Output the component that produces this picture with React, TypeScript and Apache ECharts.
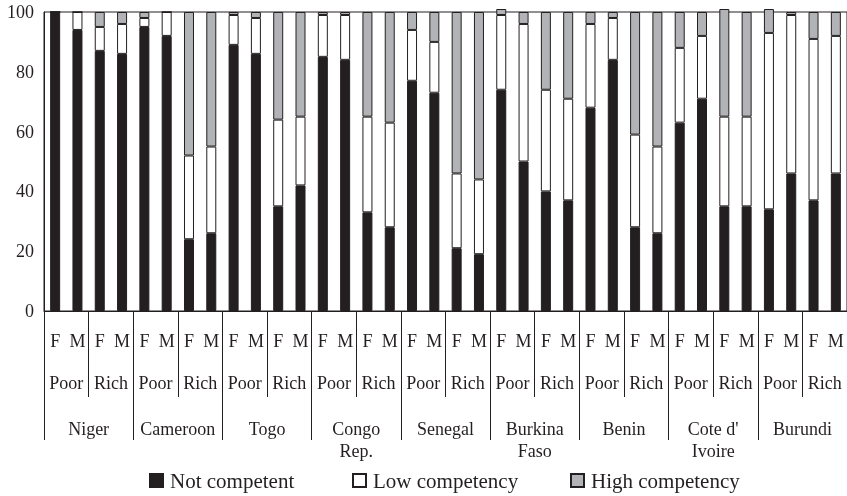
import React, { useEffect, useRef } from "react";
import * as echarts from "echarts";

const countries = ["Niger", "Cameroon", "Togo", "Congo\nRep.", "Senegal", "Burkina\nFaso", "Benin", "Cote d'\nIvoire", "Burundi"];
const wealth = ["Poor", "Rich"];
const sexes = ["F", "M"];
const yTicks = [0, 20, 40, 60, 80, 100];
const seriesNames = ["Not competent", "Low competency", "High competency"];

// per bar: Niger Poor F, Niger Poor M, Niger Rich F, Niger Rich M, Cameroon Poor F, ...
const notCompetent = [100, 94, 87, 86, 95, 92, 24, 26, 89, 86, 35, 42, 85, 84, 33, 28, 77, 73, 21, 19, 74, 50, 40, 37, 68, 84, 28, 26, 63, 71, 35, 35, 34, 46, 37, 46];
const lowCompetency = [0, 6, 8, 10, 3, 8, 28, 29, 10, 12, 29, 23, 14, 15, 32, 35, 17, 17, 25, 25, 25, 46, 34, 34, 28, 14, 31, 29, 25, 21, 30, 30, 59, 53, 54, 46];
const highCompetency = [0, 0, 5, 4, 2, 0, 48, 45, 1, 2, 36, 35, 1, 1, 35, 37, 6, 10, 54, 56, 2, 4, 26, 29, 4, 2, 41, 45, 12, 8, 36, 35, 8, 1, 9, 8];

const INK = "#231f20";
const FONT = "Liberation Serif";

export default function App() {
  const ref = useRef<HTMLDivElement>(null);
  useEffect(() => {
    if (!ref.current) return;
    const chart = echarts.init(ref.current, null, { renderer: "svg" });
    const sexCats: string[] = [];
    const wealthCats: string[] = [];
    countries.forEach(() => {
      wealth.forEach((w) => {
        wealthCats.push(w);
        sexes.forEach((s) => sexCats.push(s));
      });
    });
    const barBase = {
      type: "bar" as const,
      stack: "total",
      barWidth: 10,
      clip: false,
    };
    const legendLefts = [144, 347, 565];
    chart.setOption({
      animation: false,
      grid: {
        left: 44,
        right: 0,
        top: 12,
        bottom: 185,
        show: true,
        borderColor: INK,
        borderWidth: 1,
        outerBoundsMode: "none",
        containLabel: false,
      },
      legend: seriesNames.map((n, i) => ({
        left: legendLefts[i],
        top: 465,
        itemWidth: 13,
        itemHeight: 13,
        icon: "rect",
        data: [n],
        textStyle: { color: INK, fontFamily: FONT, fontSize: 21, padding: [0, 0, 0, 2] },
      })),
      xAxis: [
        {
          type: "category",
          data: sexCats,
          axisLine: { onZero: false, lineStyle: { color: INK } },
          axisTick: { show: false },
          axisLabel: { color: INK, fontFamily: FONT, fontSize: 18, interval: 0, margin: 21 },
        },
        {
          type: "category",
          data: wealthCats,
          position: "bottom",
          axisLine: { show: false, onZero: false },
          axisTick: { show: true, interval: 0, length: 86, lineStyle: { color: INK } },
          axisLabel: { color: INK, fontFamily: FONT, fontSize: 18, interval: 0, margin: 63 },
        },
        {
          type: "category",
          data: countries,
          position: "bottom",
          axisLine: { show: false, onZero: false },
          axisTick: { show: true, interval: 0, length: 129, lineStyle: { color: INK } },
          axisLabel: { color: INK, fontFamily: FONT, fontSize: 18, interval: 0, margin: 107, lineHeight: 22 },
        },
      ],
      yAxis: {
        type: "value",
        min: 0,
        max: 100,
        interval: 20,
        axisLine: { show: true, lineStyle: { color: INK } },
        axisTick: { show: false },
        splitLine: { show: false },
        axisLabel: {
          color: INK,
          fontFamily: FONT,
          fontSize: 18,
          margin: 10,
          formatter: (v: number) => (yTicks.includes(v) ? String(v) : ""),
        },
      },
      series: [
        { ...barBase, name: seriesNames[0], data: notCompetent, itemStyle: { color: INK, borderColor: INK, borderWidth: 1 } },
        { ...barBase, name: seriesNames[1], data: lowCompetency, itemStyle: { color: "#ffffff", borderColor: INK, borderWidth: 1 } },
        { ...barBase, name: seriesNames[2], data: highCompetency, itemStyle: { color: "#b1b3b6", borderColor: INK, borderWidth: 1 } },
      ],
    });
    return () => chart.dispose();
  }, []);
  return <div ref={ref} style={{ position: "fixed", left: 0, top: 0, width: 847, height: 496 }} />;
}
